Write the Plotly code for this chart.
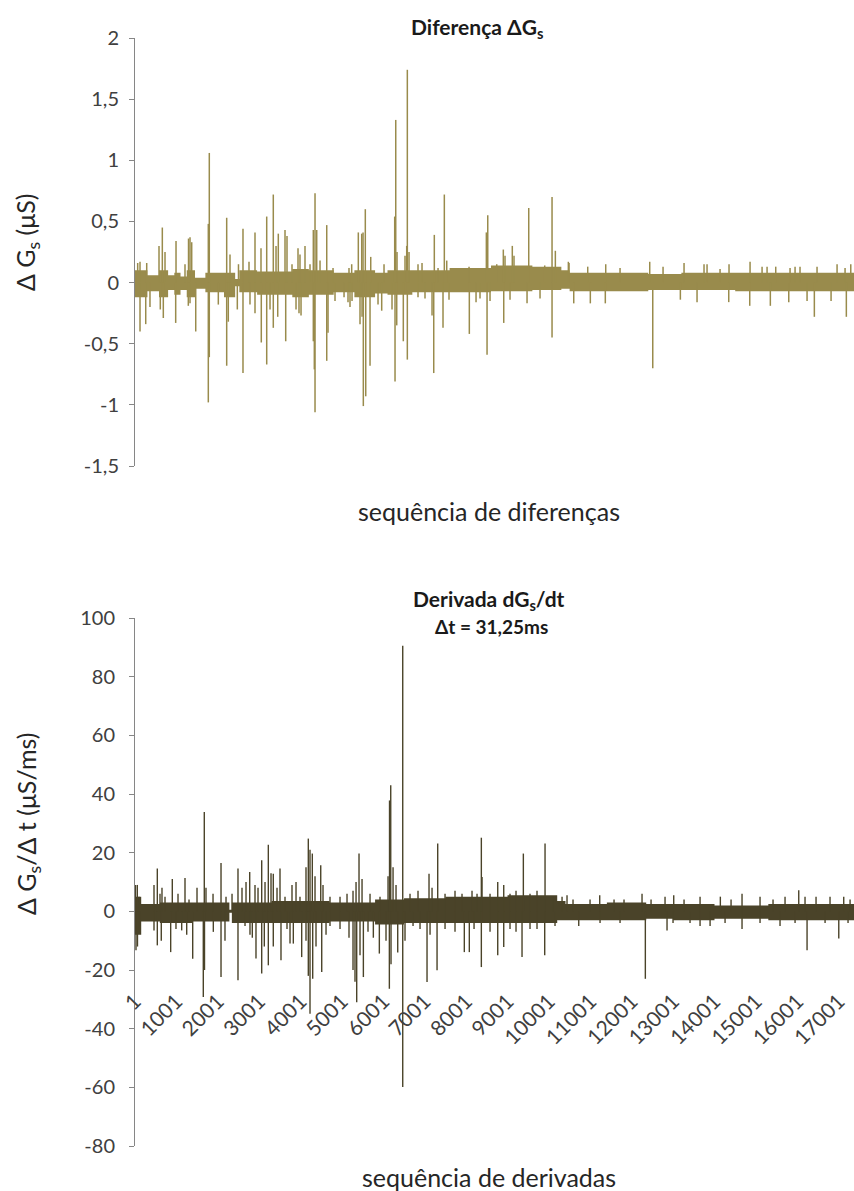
import plotly.graph_objects as go

W, H = 854, 1191
LEFT = 135

# sample index at the right edge of the plotting area
x_last = 17370

# ---------------- Diferença ΔGs (μS) ----------------
dg_up_idx = [65, 121, 283, 580, 660, 725, 991, 1208, 1293, 1329, 1370, 1771, 1795, 2215, 2295,
             2500, 2609, 2754, 2899, 3044, 3182, 3341, 3407, 3462, 3624, 3672, 3793, 3938, 3986,
             4107, 4228, 4308, 4349, 4390, 4470, 4632, 4784, 5170, 5235, 5395, 5477, 5509, 5564,
             5695, 6016, 6274, 6299, 6330, 6523, 6564, 6579, 6620, 6837, 6934, 7231, 7321, 7473,
             7531, 8070, 8488, 8522, 8739, 8898, 8939, 9115, 9156, 9512, 9898, 10075, 10155,
             10469, 10486, 10937, 11372, 11718, 12435, 12757, 13264, 13747, 13820, 14134, 14351,
             14859, 15149, 15270, 15479, 15825, 15946, 16066, 16477, 16961, 17154, 17292]
dg_up_val = [0.16, 0.17, 0.16, 0.30, 0.45, 0.25, 0.34, 0.15, 0.36, 0.37, 0.33, 0.48, 1.06, 0.53, 0.23,
             0.15, 0.44, 0.17, 0.41, 0.28, 0.54, 0.72, 0.30, 0.40, 0.43, 0.38, 0.15, 0.28, 0.23,
             0.30, 0.15, 0.43, 0.73, 0.43, 0.18, 0.47, 0.12, 0.12, 0.15, 0.41, 0.40, 0.41, 0.60,
             0.21, 0.15, 0.54, 1.33, 0.25, 0.22, 0.30, 1.74, 0.25, 0.15, 0.16, 0.39, 0.12, 0.72,
             0.18, 0.13, 0.41, 0.55, 0.15, 0.27, 0.22, 0.30, 0.22, 0.61, 0.14, 0.70, 0.26,
             0.17, 0.16, 0.13, 0.15, 0.12, 0.17, 0.13, 0.16, 0.15, 0.15, 0.11, 0.15,
             0.17, 0.13, 0.13, 0.13, 0.12, 0.13, 0.13, 0.13, 0.15, 0.12, 0.15]
dg_dn_idx = [121, 259, 362, 611, 684, 983, 1288, 1329, 1467, 1771, 1795, 2013, 2215, 2254, 2472,
             2609, 2778, 2899, 3051, 3182, 3262, 3341, 3448, 3641, 3890, 3962, 4011, 4308, 4332,
             4349, 4632, 4663, 4832, 5050, 5146, 5194, 5243, 5436, 5485, 5516, 5574, 5678, 5871,
             5960, 6209, 6282, 6323, 6482, 6579, 6837, 7006, 7176, 7217, 7441, 7586, 8077, 8239,
             8335, 8505, 8577, 8908, 9060, 9471, 9785, 10075, 10599, 11000, 11362, 12508, 13175,
             13578, 14344, 14851, 15349, 15794, 16236, 16412, 16816, 17185]
dg_dn_val = [-0.40, -0.34, -0.20, -0.22, -0.29, -0.33, -0.19, -0.17, -0.40, -0.98, -0.61, -0.18, -0.68,
             -0.32, -0.22, -0.74, -0.18, -0.25, -0.49, -0.67, -0.22, -0.37, -0.28, -0.48, -0.22,
             -0.25, -0.27, -0.48, -0.71, -1.06, -0.64, -0.41, -0.15, -0.12, -0.16, -0.20, -0.15,
             -0.34, -0.28, -1.01, -0.93, -0.68, -0.18, -0.23, -0.22, -0.81, -0.35, -0.48, -0.63,
             -0.12, -0.13, -0.27, -0.74, -0.37, -0.14, -0.42, -0.16, -0.13, -0.59, -0.15, -0.33,
             -0.14, -0.17, -0.13, -0.45, -0.17, -0.17, -0.17, -0.70, -0.14, -0.16, -0.16, -0.19,
             -0.19, -0.16, -0.15, -0.28, -0.15, -0.28]
# envelope of the dense background noise, piecewise by sample index
dg_band_start = [0, 300, 580, 800, 950, 1100, 1250, 1450, 1700, 2150, 2420, 2520, 2950, 3800,
                 4200, 4800, 5300, 5800, 6100, 6700, 7600, 8600, 9600, 10300, 10500, 12400,
                 13200, 14500]
dg_band_hi = [0.10, 0.06, 0.10, 0.06, 0.08, 0.05, 0.10, 0.04, 0.08, 0.08, 0.03, 0.10, 0.09, 0.11,
              0.10, 0.08, 0.10, 0.08, 0.10, 0.10, 0.12, 0.14, 0.13, 0.10, 0.08, 0.07,
              0.08, 0.08]
dg_band_lo = [-0.12, -0.07, -0.12, -0.06, -0.10, -0.06, -0.12, -0.05, -0.08, -0.12, -0.03, -0.08,
              -0.10, -0.12, -0.10, -0.08, -0.12, -0.09, -0.10, -0.08, -0.08, -0.07, -0.06, -0.05,
              -0.07, -0.06, -0.06, -0.07]
dg_ticks = [-1.5, -1, -0.5, 0, 0.5, 1, 1.5, 2]
dg_ticktext = ["-1,5", "-1", "-0,5", "0", "0,5", "1", "1,5", "2"]

# ---------------- Derivada dGs/dt (μS/ms) ----------------
dv_up_idx = [12, 56, 97, 459, 539, 604, 652, 725, 901, 1039, 1208, 1305, 1498, 1674, 1715, 1885,
             2078, 2199, 2344, 2488, 2585, 2682, 2771, 2899, 2972, 3061, 3141, 3221, 3286, 3341,
             3431, 3503, 3624, 3793, 3890, 3986, 4131, 4187, 4228, 4284, 4349, 4487, 4542, 4711,
             4953, 5122, 5267, 5340, 5412, 5485, 5678, 5919, 6113, 6149, 6178, 6234, 6306, 6468,
             6644, 6837, 7103, 7176, 7313, 7490, 7731, 7900, 8142, 8263, 8367, 8384, 8577, 8763,
             8908, 9060, 9205, 9382, 9543, 9712, 9906, 10099, 10317, 10437, 10582, 10993, 11227,
             11573, 11814, 12249, 12467, 12805, 13015, 13264, 13651, 14141, 14400, 14665, 15100,
             15414, 15704, 16035, 16187, 16453, 16791, 17122, 17275]
dv_up_val = [9, 9, 5, 9, 14.6, 6, 8, 5, 11, 6, 11.4, 4, 8, 33.9, 8, 6,
             16.5, 5, 6, 14.6, 8, 10, 13.4, 9, 8, 17.4, 10, 22.7, 13, 12.8,
             8, 14.6, 5, 9, 10, 5, 15, 24.8, 21, 19.7, 12, 15.7, 9, 5,
             5, 6, 7, 10, 19.7, 11, 6, 5, 12, 37.8, 43, 15, 9, 90.5,
             6, 7, 12.8, 8, 23.1, 6, 7, 6, 7, 6, 25.1, 11.7, 6, 10,
             9, 6, 7, 19.7, 6, 7, 23.1, 5, 5, 5.5, 4, 4, 5.5,
             4, 4, 6, 4, 5, 5.5, 4, 5, 5, 4, 6, 5,
             4, 5, 7.2, 5, 5, 5, 5, 4]
dv_dn_idx = [0, 24, 60, 121, 459, 539, 635, 862, 990, 1128, 1249, 1394, 1650, 1679, 1892, 2078,
             2174, 2488, 2658, 2778, 2834, 2923, 3061, 3124, 3221, 3341, 3527, 3672, 3745, 3825,
             4027, 4131, 4187, 4228, 4293, 4373, 4511, 4615, 4711, 4953, 5170, 5267, 5315, 5356,
             5436, 5517, 5629, 5758, 5903, 6064, 6145, 6185, 6347, 6468, 6523, 6717, 6886, 7055,
             7128, 7297, 7490, 7731, 7956, 8077, 8191, 8367, 8577, 8763, 8908, 9060, 9205, 9350,
             9543, 9712, 9898, 10147, 10720, 11235, 11718, 12329, 12853, 12998, 13409, 13651,
             13893, 14255, 14665, 15100, 15583, 15946, 16236, 16671, 17002, 17226]
dv_dn_val = [-7, -13.3, -12, -5, -6.5, -11.6, -10, -13.9, -6, -6.5, -8, -16.2, -29.2, -20, -7, -22.4,
             -10, -23.5, -5, -8, -9, -16.1, -21.2, -12, -18.4, -12, -16.7, -6, -11, -11,
             -15.6, -10, -22, -34.9, -23, -12, -20.7, -8, -5, -6, -9, -20, -24, -31,
             -15, -22.4, -7, -9, -14.4, -10, -26.4, -18, -14, -59.9, -10, -5, -6, -24.1,
             -8, -20.1, -6, -7, -13.9, -13.9, -6, -19, -7, -15, -12.2, -6, -7, -15.6,
             -6, -6, -15, -5, -5, -4, -4, -23, -6.5, -4, -4, -5,
             -5, -4, -6, -4, -5, -4, -13.3, -4, -9.3, -4]
dv_band_start = [0, 150, 600, 1400, 2280, 2340, 3300, 4700, 5800, 6500, 7500, 9000, 10200,
                 10400, 11400, 12350, 13000, 14000, 15300]
dv_band_hi = [5, 2.5, 3, 3, 0.5, 3, 3.5, 3, 4, 4.5, 5, 5.5, 3.5, 2.5, 3, 2.5, 2.5, 2, 2.5]
dv_band_lo = [-8, -3.5, -4, -3.5, -0.5, -4, -4, -3.5, -4.5, -4, -4, -4, -3, -3, -3, -2.5, -3,
              -2.5, -3]
dv_ticks = [-80, -60, -40, -20, 0, 20, 40, 60, 80, 100]
dv_xticks = [1, 1001, 2001, 3001, 4001, 5001, 6001, 7001, 8001, 9001, 10001, 11001, 12001,
             13001, 14001, 15001, 16001, 17001]

COL_DG = "#998b4c"
COL_DV = "#4a4329"
AXIS_COL = "#868686"
TICK_FONT = dict(family="Lato", size=20, color="#404040")
XTICK_FONT = dict(family="Lato", size=21, color="#404040")
TITLE_FONT = dict(family="Lato", size=25, color="#262626")
HEAD_FONT = dict(family="Lato", size=21, color="#1a1a1a")
SUBHEAD_FONT = dict(family="Lato", size=19, color="#1a1a1a")


def spike_path(idx, val):
    xs, ys = [], []
    for i, v in zip(idx, val):
        xs += [i, i, None]
        ys += [0, v, None]
    return xs, ys


def band_traces(start, hi, lo, color, xa, ya):
    xs = list(start) + [x_last]
    up = list(hi) + [hi[-1]]
    dn = list(lo) + [lo[-1]]
    t_lo = go.Scatter(x=xs, y=dn, mode="lines", line=dict(width=0, shape="hv", color=color),
                      xaxis=xa, yaxis=ya, hoverinfo="skip", showlegend=False)
    t_hi = go.Scatter(x=xs, y=up, mode="lines", line=dict(width=0, shape="hv", color=color),
                      fill="tonexty", fillcolor=color, xaxis=xa, yaxis=ya,
                      hoverinfo="skip", showlegend=False)
    return [t_lo, t_hi]


def py(px):
    """pixel row -> paper coordinate"""
    return 1 - px / H


def pxx(px):
    """pixel column -> paper coordinate"""
    return (px - LEFT) / (W - LEFT)


fig = go.Figure()

for tr in band_traces(dg_band_start, dg_band_hi, dg_band_lo, COL_DG, "x", "y"):
    fig.add_trace(tr)
for idx, val in ((dg_up_idx, dg_up_val), (dg_dn_idx, dg_dn_val)):
    sx, sy = spike_path(idx, val)
    fig.add_trace(go.Scatter(x=sx, y=sy, mode="lines", line=dict(color=COL_DG, width=1.5),
                             xaxis="x", yaxis="y", showlegend=False))

for tr in band_traces(dv_band_start, dv_band_hi, dv_band_lo, COL_DV, "x2", "y2"):
    fig.add_trace(tr)
for idx, val in ((dv_up_idx, dv_up_val), (dv_dn_idx, dv_dn_val)):
    sx, sy = spike_path(idx, val)
    fig.add_trace(go.Scatter(x=sx, y=sy, mode="lines", line=dict(color=COL_DV, width=1.4),
                             xaxis="x2", yaxis="y2", showlegend=False))

yaxis_common = dict(showline=True, linecolor=AXIS_COL, linewidth=1, ticks="outside",
                    ticklen=5, tickcolor=AXIS_COL, tickfont=TICK_FONT, showgrid=False,
                    zeroline=True, zerolinecolor=AXIS_COL, zerolinewidth=1,
                    automargin=False, fixedrange=True)

fig.update_layout(
    template="none",
    width=W, height=H,
    margin=dict(l=LEFT, r=0, t=0, b=0, pad=0),
    paper_bgcolor="white", plot_bgcolor="white",
    showlegend=False,
    xaxis=dict(domain=[0, 1], range=[0, x_last], anchor="y", showline=False, showgrid=False,
               zeroline=False, showticklabels=False, ticks="", tickvals=[],
               automargin=False),
    yaxis=dict(domain=[py(466), py(38)], range=[-1.5, 2], anchor="x",
               tickvals=dg_ticks, ticktext=dg_ticktext, ticklabelstandoff=6, **yaxis_common),
    xaxis2=dict(domain=[0, 1], range=[0, x_last], anchor="free", position=py(984),
                showline=False, showgrid=False, zeroline=False, ticks="",
                tickvals=dv_xticks, ticktext=[str(v) for v in dv_xticks],
                tickangle=-45, tickfont=XTICK_FONT, automargin=False),
    yaxis2=dict(domain=[py(1146), py(618)], range=[-80, 100], anchor="x2",
                tickvals=dv_ticks, ticktext=[str(v) for v in dv_ticks],
                ticklabelstandoff=10, **yaxis_common),
)

annotations = [
    dict(text="<b>Diferença ΔG<sub>s</sub></b>", x=pxx(477), y=py(28), font=HEAD_FONT),
    dict(text="sequência de diferenças", x=pxx(489), y=py(511), font=TITLE_FONT),
    dict(text="Δ G<sub>s</sub> (μS)", x=pxx(27), y=py(243), textangle=-90, font=TITLE_FONT),
    dict(text="<b>Derivada dG<sub>s</sub>/dt</b>", x=pxx(489), y=py(600), font=HEAD_FONT),
    dict(text="<b>Δt = 31,25ms</b>", x=pxx(491), y=py(626), font=SUBHEAD_FONT),
    dict(text="sequência de derivadas", x=pxx(489), y=py(1177), font=TITLE_FONT),
    dict(text="Δ G<sub>s</sub>/Δ t (μS/ms)", x=pxx(28), y=py(823), textangle=-90,
         font=TITLE_FONT),
]
for a in annotations:
    a.update(xref="paper", yref="paper", showarrow=False, xanchor="center", yanchor="middle")
fig.update_layout(annotations=annotations)

fig.write_html("out.html")
